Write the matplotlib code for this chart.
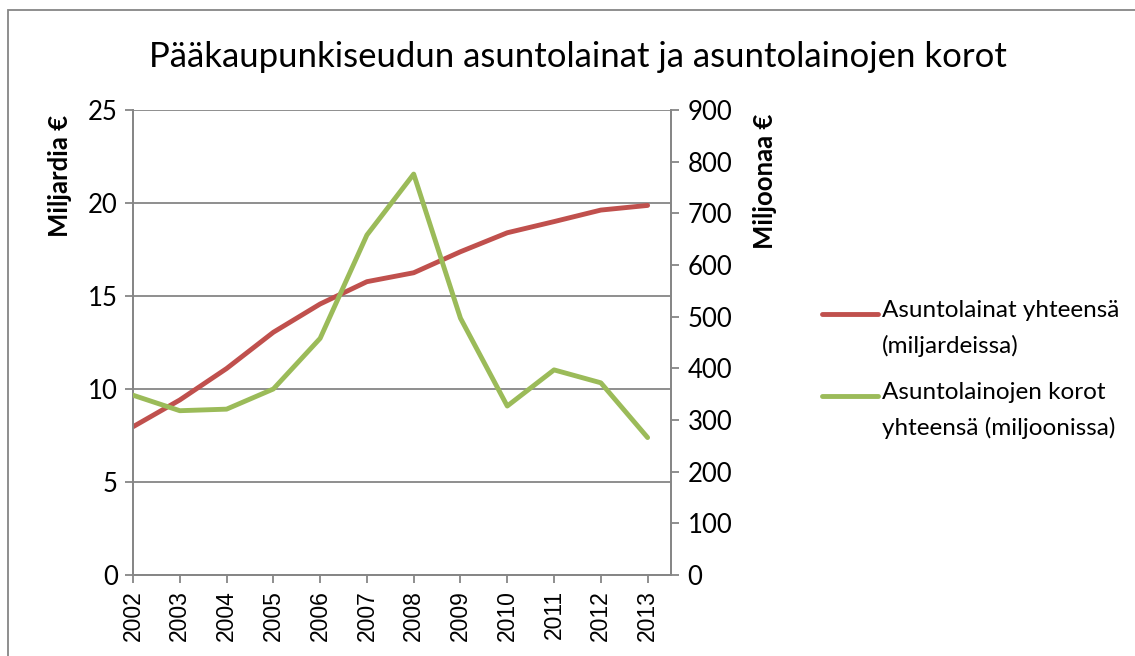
import matplotlib
matplotlib.use("Agg")
import matplotlib.pyplot as plt
from matplotlib.patches import Rectangle
from matplotlib.lines import Line2D

years = [2002, 2003, 2004, 2005, 2006, 2007, 2008, 2009, 2010, 2011, 2012, 2013]
loans_bn = [7.97, 9.41, 11.1, 13.05, 14.57, 15.77, 16.25, 17.38, 18.4, 19.0, 19.62, 19.87]
interest_mn = [348, 318, 321, 360, 458, 658, 776, 497, 327, 397, 372, 266]

title = "Pääkaupunkiseudun asuntolainat ja asuntolainojen korot"
left_label = "Miljardia €"
right_label = "Miljoonaa €"
legend_labels = ["Asuntolainat yhteensä\n(miljardeissa)",
                 "Asuntolainojen korot\nyhteensä (miljoonissa)"]

RED = "#C0504D"
GREEN = "#9BBB59"
GRID = "#868686"
FONT = "Lato"

W, H = 1135, 656
fig = plt.figure(figsize=(W / 100, H / 100), dpi=100)

# outer frame (extends beyond right and bottom edges)
fig.patches.append(Rectangle((8 / W, -0.05), 1.2, 1 - 10 / H + 0.05,
                             transform=fig.transFigure, fill=False,
                             edgecolor=GRID, linewidth=1.3))

ax = fig.add_axes([133 / W, (H - 575) / H, (671 - 133) / W, 465 / H])
ax2 = ax.twinx()

ax.plot(years, loans_bn, color=RED, linewidth=3.5, solid_capstyle="round", zorder=3)
ax2.plot(years, interest_mn, color=GREEN, linewidth=3.5, solid_capstyle="round", zorder=3)

ax.set_xlim(2002, 2013.5)
ax.set_ylim(0, 25)
ax2.set_ylim(0, 900)
ax.set_yticks([0, 5, 10, 15, 20, 25])
ax2.set_yticks(range(0, 901, 100))
ax.set_xticks(years)
ax.set_xticklabels([str(y) for y in years], rotation=90,
                   fontfamily="Liberation Sans", fontsize=16.5)

for a in (ax, ax2):
    for s in a.spines.values():
        s.set_color(GRID)
        s.set_linewidth(1.3)
    a.spines["top"].set_visible(False)
    a.tick_params(colors=GRID, length=6, width=1.3, labelcolor="black")

ax.tick_params(axis="x", pad=5)
ax.tick_params(axis="y", labelsize=18.5, pad=5)
ax2.tick_params(axis="y", labelsize=18.5, pad=6)
for lbl in ax.get_yticklabels() + ax2.get_yticklabels():
    lbl.set_fontfamily(FONT)

ax.yaxis.grid(True, color=GRID, linewidth=1.3)
ax.set_axisbelow(True)

fig.text(60 / W, 1 - 176 / H, left_label, rotation=90, ha="center", va="center",
         fontsize=18.5, fontweight="bold", fontfamily=FONT)
fig.text(765 / W, 1 - 181 / H, right_label, rotation=90, ha="center", va="center",
         fontsize=18.5, fontweight="bold", fontfamily=FONT)

fig.text(578 / W, 1 - 57 / H, title, ha="center", va="center",
         fontsize=25, fontfamily=FONT)

# legend drawn manually to match the spacing of the original
legend_colors = [RED, GREEN]
legend_y = [314, 396]
for lab, col, yy in zip(legend_labels, legend_colors, legend_y):
    fig.add_artist(Line2D([822 / W, 878 / W], [1 - yy / H, 1 - yy / H],
                          transform=fig.transFigure, color=col, linewidth=3.5,
                          solid_capstyle="round"))
    fig.text(882 / W, 1 - (yy - 14) / H, lab, ha="left", va="top",
             fontsize=17.5, fontfamily=FONT, linespacing=1.75)

fig.savefig("out.png", dpi=100)
